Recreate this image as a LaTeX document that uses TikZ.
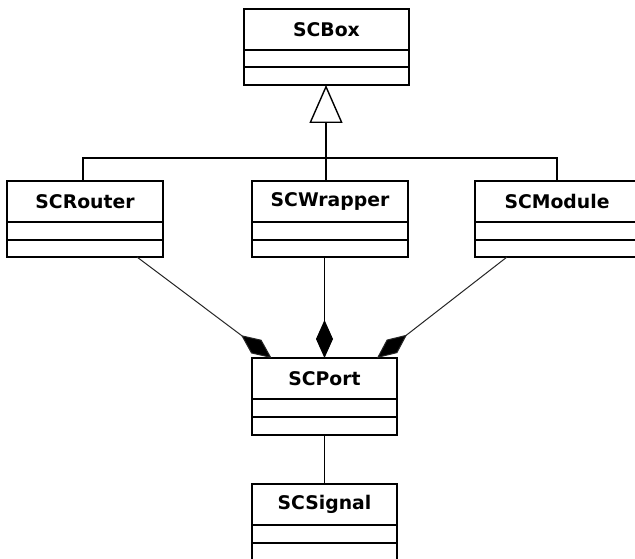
\documentclass[tikz,border=0pt]{standalone}
\usepackage{fontspec}
\newfontfamily\umlfont{DejaVu Sans}
\usetikzlibrary{arrows.meta,calc}

\tikzset{
  classbox/.style={draw=black, line width=2pt, fill=white, inner sep=0pt, outer sep=0pt},
  classtitle/.style={font=\umlfont\bfseries\fontsize{18.8}{22}\selectfont, inner sep=0pt, text=black},
  classline/.style={draw=black, line width=2pt},
  edge/.style={draw=black, line width=1.8pt},
  genarrow/.style={edge, -{Triangle[open, length=38pt, width=33pt, line width=1.4pt]}},
  compo/.style={draw=black!85, line width=1pt, -{Diamond[length=38pt, width=17pt, fill=black]}},
  compov/.style={draw=black, line width=1.8pt, -{Diamond[length=38pt, width=17pt, fill=black, line width=1pt]}},
}

% UML class: name, left, top, width, height, title
\newcommand\umlclass[6]{%
  \node[classbox, minimum width=#4pt, minimum height=#5pt, anchor=north west] (#1) at (#2,#3) {};
  \node[classtitle] (#1-title) at ([yshift=-20.5pt]#1.north) {#6};
  \draw[classline] ([yshift=-41pt]#1.north west) -- ([yshift=-41pt]#1.north east);
  \draw[classline] ([yshift=-58.5pt]#1.north west) -- ([yshift=-58.5pt]#1.north east);
}

\begin{document}
\begin{tikzpicture}[x=1pt, y=-1pt]
  \useasboundingbox (0,0) rectangle (635,559);
  \fill[white] (0,0) rectangle (635,559);
  \clip (0,0) rectangle (635,559);

  \umlclass{box}{244}{9}{165}{76}{SCBox}
  \umlclass{router}{7}{181}{156}{76}{SCRouter}
  \umlclass{wrapper}{252}{181}{156}{76}{SCWrapper}
  \umlclass{module}{475}{181}{164}{76}{SCModule}
  \umlclass{port}{252}{358}{145}{77}{SCPort}
  \umlclass{signal}{252}{484}{145}{77}{SCSignal}

  % generalization tree
  \coordinate (bar) at (326,158);
  \draw[edge] ([xshift=-2pt]router.north) |- (bar) -| (module.north);
  \draw[edge] (bar |- wrapper.north) -- (bar);
  \draw[genarrow] (bar) -- (bar |- box.south);

  % composition links
  \draw[compo] ([xshift=52pt]router.south) -- ([xshift=-53pt]port.north);
  \draw[compov] (port.north |- wrapper.south) -- (port.north);
  \draw[compo] ([xshift=-50pt]module.south) -- ([xshift=52.5pt]port.north);

  % association
  \draw[edge] (port.south) -- (signal.north);
\end{tikzpicture}
\end{document}
